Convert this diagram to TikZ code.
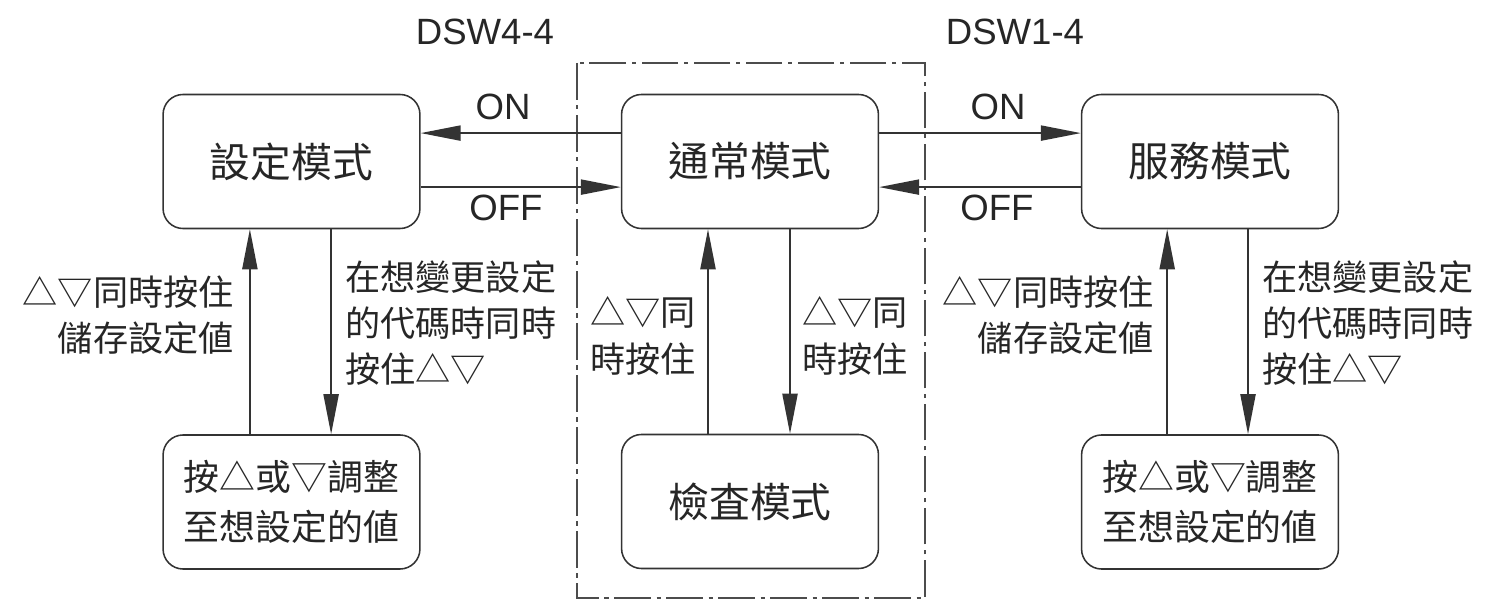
\documentclass[tikz,border=0pt]{standalone}
\usepackage{fontspec}
\setmainfont{Liberation Sans}
\newfontfamily\cjk{Noto Sans CJK TC}
\usetikzlibrary{arrows.meta}

\tikzset{
  modebox/.style={draw=black!80, line width=1.1pt, rounded corners=0.5cm,
    minimum width=6.42cm, minimum height=3.35cm, inner sep=0pt,
    font=\cjk\fontsize{29pt}{36pt}\selectfont, text=black!85},
  adjbox/.style={modebox, align=center,
    font=\cjk\fontsize{25.5pt}{35.5pt}\selectfont},
  note/.style={inner sep=0pt, text=black!85,
    font=\cjk\fontsize{25pt}{33pt}\selectfont},
  swlabel/.style={inner sep=0pt, text=black!85,
    font=\fontsize{26pt}{30pt}\selectfont},
  arr/.style={line width=1.1pt, draw=black!80,
    -{Triangle[length=1cm,width=0.38cm]}},
}

\begin{document}
\begin{tikzpicture}[x=0.025cm,y=-0.025cm]
\useasboundingbox (0,0) rectangle (1487,602);

% dash-dot frame round the normal and check modes
\draw[black!70, line width=0.9pt, dash pattern=on 26pt off 4pt on 3pt off 4pt]
    (577,63) rectangle (925,598);

% mode boxes
\node[modebox] (set) at (291.5,161.5) {設定模式};
\node[modebox] (norm) at (750,161.5) {通常模式};
\node[modebox] (serv) at (1210,161.5) {服務模式};
\node[adjbox] (adjL) at (291.5,502) {按△或▽調整\\至想設定的値};
\node[modebox] (check) at (750,501.5) {檢査模式};
\node[adjbox] (adjR) at (1210,502) {按△或▽調整\\至想設定的値};

% switches
\node[swlabel] (dswL) at (485,32) {DSW4-4};
\node[swlabel] (dswR) at (1015,32) {DSW1-4};

% horizontal arrows
\draw[arr] ([yshift=0.71cm]norm.west) -- ([yshift=0.71cm]set.east);
\draw[arr] ([yshift=-0.64cm]set.east) -- ([yshift=-0.64cm]norm.west);
\draw[arr] ([yshift=0.71cm]norm.east) -- ([yshift=0.71cm]serv.west);
\draw[arr] ([yshift=-0.64cm]serv.west) -- ([yshift=-0.64cm]norm.east);
\node[swlabel] (onL) at (503,107) {ON};
\node[swlabel] (offL) at (506,208) {OFF};
\node[swlabel] (onR) at (998,107) {ON};
\node[swlabel] (offR) at (997,208) {OFF};

% vertical arrows
\draw[arr] ([xshift=-1.04cm]adjL.north) -- ([xshift=-1.04cm]set.south);
\draw[arr] ([xshift=0.99cm]set.south) -- ([xshift=0.99cm]adjL.north);
\draw[arr] ([xshift=-1.05cm]check.north) -- ([xshift=-1.05cm]norm.south);
\draw[arr] ([xshift=1cm]norm.south) -- ([xshift=1cm]check.north);
\draw[arr] ([xshift=-1.07cm]adjR.north) -- ([xshift=-1.07cm]serv.south);
\draw[arr] ([xshift=0.95cm]serv.south) -- ([xshift=0.95cm]adjR.north);

% key notes
\node[note, anchor=east, align=right] (saveL) at (234,315) {△▽同時按住\\儲存設定値};
\node[note, anchor=west, align=left] (editL) at (345,323) {在想變更設定\\的代碼時同時\\按住△▽};
\node[note, anchor=west, align=left] (toN) at (590,336) {△▽同\\時按住};
\node[note, anchor=west, align=left] (toC) at (802,336) {△▽同\\時按住};
\node[note, anchor=east, align=right] (saveR) at (1154,315) {△▽同時按住\\儲存設定値};
\node[note, anchor=west, align=left] (editR) at (1262,323) {在想變更設定\\的代碼時同時\\按住△▽};
\end{tikzpicture}
\end{document}
